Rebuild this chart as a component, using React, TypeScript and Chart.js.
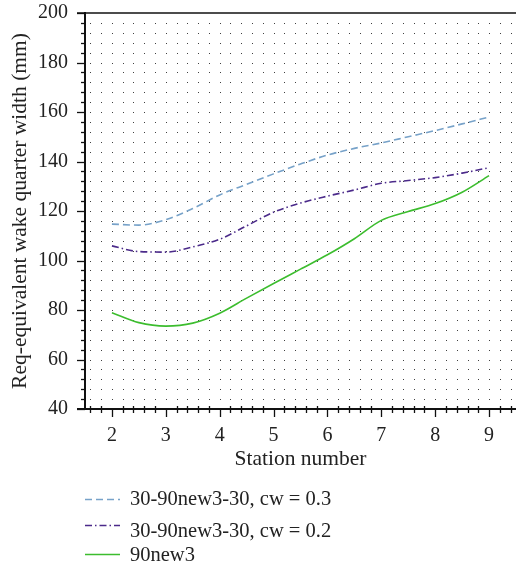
import React, { useEffect, useRef } from 'react';
import { Chart, registerables } from 'chart.js';

Chart.register(...registerables);

// ---- data ----
const stations = [2, 2.5, 3, 3.5, 4, 4.5, 5, 5.5, 6, 6.5, 7, 7.5, 8, 8.5, 9];
const cw03 = [114.7, 114.3, 116.5, 121, 126.5, 130.8, 135, 139, 142.6, 145.3, 147.5, 150, 152.5, 155.2, 158];
const cw02 = [105.9, 103.6, 103.4, 105.5, 108.6, 114, 119.5, 123.2, 126, 128.5, 131.2, 132.3, 133.5, 135.3, 137.5];
const new3 = [78.9, 74.9, 73.5, 74.7, 78.7, 84.8, 90.7, 96.5, 102.3, 108.8, 116.2, 119.8, 123, 127.6, 134.3];
const seriesLabels = ['30-90new3-30, cw = 0.3', '30-90new3-30, cw = 0.2', '90new3'];
const xTickLabels = [2, 3, 4, 5, 6, 7, 8, 9];
const yTickLabels = [40, 60, 80, 100, 120, 140, 160, 180, 200];
const xTitle = 'Station number';
const yTitle = 'Req-equivalent wake quarter width (mm)';

const X_MIN = 1.5;
const X_MAX = 9.5;
const Y_MIN = 40;
const Y_MAX = 200;
const X_MINOR = 0.2;
const Y_MINOR = 4;

const COLORS = ['#77a2c9', '#4b2a8a', '#3cbd2e'];
const DASHES: number[][] = [[7, 4], [7, 3, 1.5, 3], []];
const FONT = "'Liberation Serif', 'Times New Roman', serif";

const toPoints = (ys: number[]) => stations.map((x, i) => ({ x, y: ys[i] }));

const near = (v: number, arr: number[]) => arr.some((a) => Math.abs(a - v) < 1e-6);

const decorPlugin = {
  id: 'decor',
  beforeDatasetsDraw(chart: any) {
    const { ctx, chartArea, scales } = chart;
    const xs = scales.x;
    const ys = scales.y;
    ctx.save();
    ctx.fillStyle = 'rgba(0,0,0,0.75)';
    for (let xv = X_MIN + 0.1; xv < X_MAX - 1e-6; xv += X_MINOR) {
      const px = Math.round(xs.getPixelForValue(xv));
      if (px <= chartArea.left + 2) continue;
      for (let yv = Y_MIN + Y_MINOR; yv < Y_MAX - 1e-6; yv += Y_MINOR) {
        const py = Math.round(ys.getPixelForValue(yv));
        ctx.fillRect(px, py, 1, 1);
      }
    }
    ctx.restore();
  },
  afterDraw(chart: any) {
    const { ctx, chartArea, scales } = chart;
    const xs = scales.x;
    const ys = scales.y;
    const L = chartArea.left;
    const B = chartArea.bottom;
    const T = chartArea.top;
    const R = chartArea.right;
    ctx.save();
    ctx.strokeStyle = '#111';
    ctx.lineWidth = 2;
    ctx.beginPath();
    ctx.moveTo(L, T - 1);
    ctx.lineTo(L, B + 1);
    ctx.stroke();
    ctx.beginPath();
    ctx.moveTo(L - 8, B);
    ctx.lineTo(R, B);
    ctx.stroke();
    ctx.lineWidth = 1.5;
    ctx.beginPath();
    ctx.moveTo(L - 8, T);
    ctx.lineTo(R, T);
    ctx.stroke();
    ctx.lineWidth = 1.3;
    for (let yv = Y_MIN; yv <= Y_MAX + 1e-6; yv += Y_MINOR) {
      const py = Math.round(ys.getPixelForValue(yv)) + 0.5;
      const major = near(yv, yTickLabels);
      ctx.beginPath();
      ctx.moveTo(major ? L - 8 : L - 4, py);
      ctx.lineTo(major ? L : L + 1, py);
      ctx.stroke();
    }
    for (let xv = X_MIN + 0.1; xv < X_MAX + 1e-6; xv += X_MINOR) {
      const px = Math.round(xs.getPixelForValue(xv)) + 0.5;
      const major = near(xv, xTickLabels);
      ctx.beginPath();
      if (major) {
        ctx.moveTo(px, B);
        ctx.lineTo(px, B + 8);
      } else {
        ctx.moveTo(px, B - 3);
        ctx.lineTo(px, B + 4);
      }
      ctx.stroke();
    }
    // legend
    const legendX0 = L;
    const legendX1 = L + 35;
    const textX = L + 45;
    const rows = [500, 532, 556];
    const lineRows = [499, 525, 554];
    chart.data.datasets.forEach((ds: any, i: number) => {
      ctx.strokeStyle = ds.borderColor;
      ctx.lineWidth = 1.5;
      ctx.setLineDash(ds.borderDash || []);
      ctx.beginPath();
      ctx.moveTo(legendX0, lineRows[i] + 0.5);
      ctx.lineTo(legendX1, lineRows[i] + 0.5);
      ctx.stroke();
      ctx.setLineDash([]);
      ctx.fillStyle = '#222';
      ctx.font = `20.5px ${FONT}`;
      ctx.textBaseline = 'middle';
      ctx.textAlign = 'left';
      ctx.fillText(ds.label, textX, rows[i]);
    });
    ctx.restore();
  },
};

export default function App() {
  const ref = useRef<HTMLCanvasElement | null>(null);
  useEffect(() => {
    if (!ref.current) return;
    const chart = new Chart(ref.current, {
      type: 'line',
      data: {
        datasets: [cw03, cw02, new3].map((ys, i) => ({
          label: seriesLabels[i],
          data: toPoints(ys),
          borderColor: COLORS[i],
          borderDash: DASHES[i],
          borderWidth: 1.6,
          pointRadius: 0,
          fill: false,
          cubicInterpolationMode: 'monotone' as const,
        })),
      },
      options: {
        animation: false,
        responsive: false,
        devicePixelRatio: 1,
        layout: { padding: { left: 0, top: 13, right: 0, bottom: 97 } },
        plugins: { legend: { display: false }, tooltip: { enabled: false } },
        scales: {
          x: {
            type: 'linear',
            min: X_MIN,
            max: X_MAX,
            afterFit: (s: any) => {
              s.height = 63;
              s.paddingLeft = 0;
              s.paddingRight = 0;
            },
            afterBuildTicks: (s: any) => {
              s.ticks = xTickLabels.map((v) => ({ value: v }));
            },
            grid: { display: true, drawOnChartArea: false, drawTicks: false, color: 'rgba(0,0,0,0)' },
            border: { display: false },
            ticks: {
              autoSkip: false,
              maxRotation: 0,
              padding: 15,
              color: '#222',
              font: { family: FONT, size: 20 },
              callback: (v: any) => String(v),
            },
            title: {
              display: true,
              text: xTitle,
              color: '#222',
              font: { family: FONT, size: 21.5 },
              padding: { top: 3, bottom: 0 },
            },
          },
          y: {
            type: 'linear',
            min: Y_MIN,
            max: Y_MAX,
            afterFit: (s: any) => {
              s.width = 85;
              s.paddingTop = 0;
              s.paddingBottom = 0;
            },
            afterBuildTicks: (s: any) => {
              s.ticks = yTickLabels.map((v) => ({ value: v }));
            },
            grid: { display: true, drawOnChartArea: false, drawTicks: false, color: 'rgba(0,0,0,0)' },
            border: { display: false },
            ticks: {
              autoSkip: false,
              padding: 17,
              color: '#222',
              font: { family: FONT, size: 20 },
              callback: (v: any) => String(v),
            },
            title: {
              display: true,
              text: yTitle,
              color: '#222',
              font: { family: FONT, size: 21.5 },
              padding: { top: 7, bottom: 0 },
            },
          },
        },
      },
      plugins: [decorPlugin],
    });
    return () => chart.destroy();
  }, []);
  return (
    <div style={{ position: 'absolute', left: 0, top: 0, width: 516, height: 569, background: '#fff' }}>
      <canvas ref={ref} width={516} height={569} />
    </div>
  );
}
